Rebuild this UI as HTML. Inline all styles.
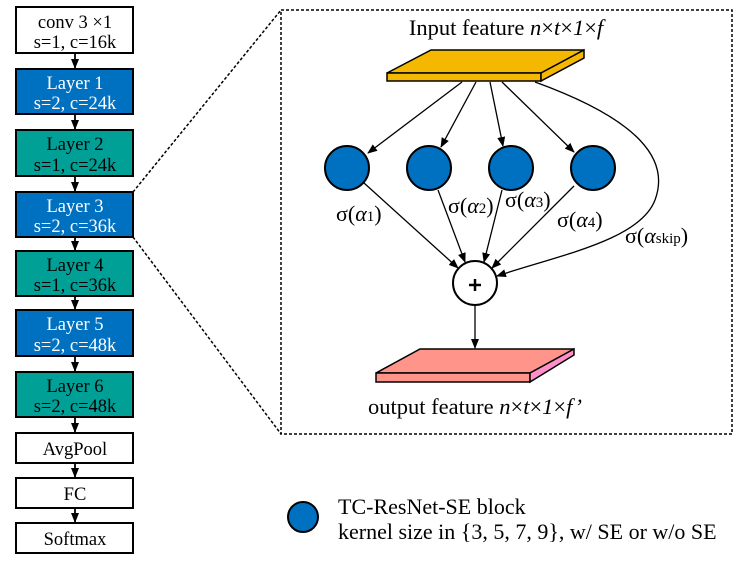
<!DOCTYPE html>
<html><head><style>
body{margin:0;background:#fff;}
svg{display:block;font-family:"Liberation Serif",serif;}
</style></head><body>
<svg width="747" height="561" viewBox="0 0 747 561" xmlns="http://www.w3.org/2000/svg">
<defs><marker id="a" markerWidth="10" markerHeight="10" refX="9" refY="5" orient="auto" markerUnits="userSpaceOnUse"><path d="M0,1 L10,5 L0,9 z" fill="#000"/></marker></defs>
<g stroke="#000" stroke-width="2">
<rect x="16" y="7" width="117" height="46" fill="#fff"/>
<rect x="16" y="69" width="117" height="45" fill="#0070C0"/>
<rect x="16" y="130" width="117" height="46" fill="#00A096"/>
<rect x="16" y="192" width="117" height="45" fill="#0070C0"/>
<rect x="16" y="251" width="117" height="45" fill="#00A096"/>
<rect x="16" y="310" width="117" height="46" fill="#0070C0"/>
<rect x="16" y="372" width="117" height="45" fill="#00A096"/>
<rect x="16" y="433" width="117" height="30" fill="#fff"/>
<rect x="16" y="478" width="117" height="30" fill="#fff"/>
<rect x="16" y="523" width="117" height="30" fill="#fff"/>
</g>
<g stroke="#000" stroke-width="1.8" marker-end="url(#a)">
<line x1="75" y1="53" x2="75" y2="68"/><line x1="75" y1="114" x2="75" y2="129"/>
<line x1="75" y1="176" x2="75" y2="191"/><line x1="75" y1="237" x2="75" y2="250"/>
<line x1="75" y1="296" x2="75" y2="309"/><line x1="75" y1="356" x2="75" y2="371"/>
<line x1="75" y1="417" x2="75" y2="432"/><line x1="75" y1="463" x2="75" y2="477"/>
<line x1="75" y1="508" x2="75" y2="522"/>
</g>
<g font-size="18.5" text-anchor="middle">
<text x="75" y="28">conv 3 ×1</text><text x="75" y="48">s=1, c=16k</text>
<text x="75" y="89" fill="#fff">Layer 1</text><text x="75" y="109" fill="#fff">s=2, c=24k</text>
<text x="75" y="150">Layer 2</text><text x="75" y="171">s=1, c=24k</text>
<text x="75" y="212" fill="#fff">Layer 3</text><text x="75" y="232" fill="#fff">s=2, c=36k</text>
<text x="75" y="271">Layer 4</text><text x="75" y="291">s=1, c=36k</text>
<text x="75" y="330" fill="#fff">Layer 5</text><text x="75" y="351" fill="#fff">s=2, c=48k</text>
<text x="75" y="392">Layer 6</text><text x="75" y="412">s=2, c=48k</text>
<text x="75" y="455">AvgPool</text><text x="75" y="500">FC</text><text x="75" y="545">Softmax</text>
</g>
<g stroke="#000" stroke-width="1.5" stroke-dasharray="3,2" fill="none">
<rect x="281" y="10" width="451" height="424"/>
<line x1="133" y1="192" x2="281" y2="10"/><line x1="133" y1="237" x2="281" y2="434"/>
</g>
<text x="506" y="35" font-size="22.5" text-anchor="middle">Input feature <tspan font-style="italic">n</tspan>×<tspan font-style="italic">t</tspan>×<tspan font-style="italic">1</tspan>×<tspan font-style="italic">f</tspan></text>
<g stroke="#000" stroke-width="1.5" fill="#F5B800">
<polygon points="387,73 431,50 584,50 541,73"/>
<rect x="387" y="73" width="154" height="8"/>
<polygon points="541,73 584,50 584,58 541,81"/>
</g>
<g stroke="#000" stroke-width="1.3" fill="none" marker-end="url(#a)">
<line x1="462" y1="82" x2="368" y2="153"/><line x1="476" y1="82" x2="441" y2="147"/>
<line x1="490" y1="82" x2="503" y2="146"/><line x1="502" y1="82" x2="574" y2="152"/>
<line x1="364" y1="183" x2="458" y2="268"/><line x1="438" y1="190" x2="465" y2="262"/>
<line x1="502" y1="190" x2="484" y2="262"/><line x1="574" y1="186" x2="492" y2="268"/>
<path d="M535,82 C640,120 670,160 655,200 C640,240 560,255 497,276"/>
<line x1="475" y1="305" x2="475" y2="348"/>
</g>
<g stroke="#000" stroke-width="2" fill="#0070C0">
<circle cx="347" cy="168" r="22"/><circle cx="429" cy="168" r="22"/>
<circle cx="511" cy="168" r="22"/><circle cx="593" cy="168" r="22"/>
<circle cx="303" cy="517" r="15"/>
</g>
<circle cx="475" cy="283" r="22" fill="#fff" stroke="#000" stroke-width="2"/>
<path d="M469,285 H481 M475,279 V291" stroke="#000" stroke-width="2.5"/>
<g font-size="22">
<text x="336" y="221">σ(<tspan font-style="italic">α</tspan><tspan font-size="15">1</tspan>)</text>
<text x="448" y="213">σ(<tspan font-style="italic">α</tspan><tspan font-size="15">2</tspan>)</text>
<text x="505" y="207">σ(<tspan font-style="italic">α</tspan><tspan font-size="15">3</tspan>)</text>
<text x="557" y="227">σ(<tspan font-style="italic">α</tspan><tspan font-size="15">4</tspan>)</text>
<text x="625" y="243">σ(<tspan font-style="italic">α</tspan><tspan font-size="15">skip</tspan>)</text>
</g>
<g stroke="#000" stroke-width="1.5">
<polygon points="376,373 420,349 574,349 530,373" fill="#FF958A"/>
<rect x="376" y="373" width="154" height="9" fill="#FF958A"/>
<polygon points="530,373 574,349 574,355 530,382" fill="#FF8FC8"/>
</g>
<text x="475" y="414" font-size="22.5" text-anchor="middle">output feature <tspan font-style="italic">n</tspan>×<tspan font-style="italic">t</tspan>×<tspan font-style="italic">1</tspan>×<tspan font-style="italic">f’</tspan></text>
<text x="338" y="514" font-size="22">TC-ResNet-SE block</text>
<text x="338" y="539" font-size="22">kernel size in {3, 5, 7, 9}, w/ SE or w/o SE</text>
</svg>
</body></html>
